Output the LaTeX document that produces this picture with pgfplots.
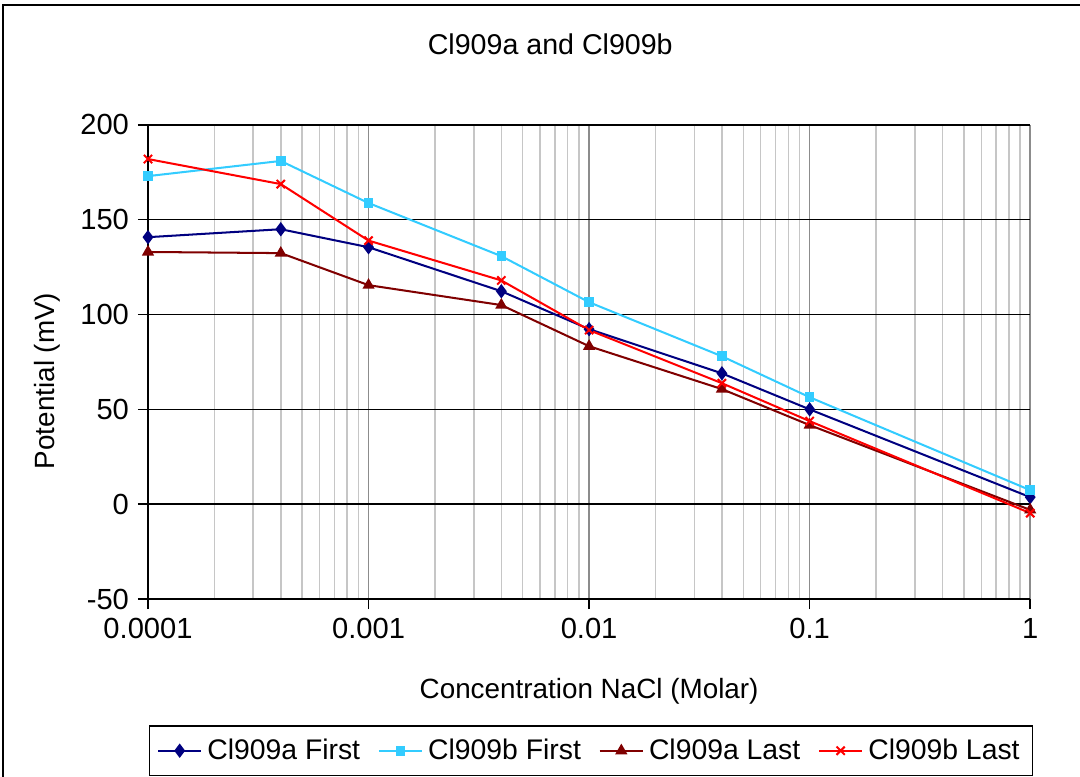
\documentclass[border=0pt]{standalone}
\usepackage{fontspec}
\setmainfont{Liberation Sans}
\usepackage{pgfplots}
\pgfplotsset{compat=1.18}
\definecolor{cNavy}{HTML}{000080}
\definecolor{cCyan}{HTML}{33CCFF}
\definecolor{cMaroon}{HTML}{800000}
\definecolor{cRed}{HTML}{FF0000}
\begin{document}
\begin{tikzpicture}
\def\px{0.013889cm}
\clip (0,0) rectangle (1080*\px,776*\px);
\useasboundingbox (0,0) rectangle (1080*\px,776*\px);
\draw[black, line width=0.6pt] (3*\px,771*\px) rectangle (1090*\px,-14*\px);
\begin{axis}[
  at={(148*\px,177*\px)}, anchor=south west,
  scale only axis, width=12.25cm, height=6.583cm,
  xmode=log, xmin=0.0001, xmax=1,
  ymin=-50, ymax=200, ytick={-50,0,50,100,150,200},
  yticklabels={-50,0,50,100,150,200},
  xtick={0.0001,0.001,0.01,0.1,1},
  xticklabels={0.0001,0.001,0.01,0.1,1},
  tick label style={font=\fontsize{11.5}{13}\selectfont},
  /pgf/number format/assume math mode=true,
  axis x line=bottom, axis y line=left,
  axis line style={-, black, line width=0.6pt},
  tick align=outside, major tick length=4pt, minor tick length=0pt,
  tick style={black, line width=0.6pt},
  xmajorgrids, xminorgrids, ymajorgrids,
  x grid style={draw=gray!90, line width=0.6pt},
  minor x grid style={draw=gray!45, line width=0.6pt},
  y grid style={draw=black, line width=0.6pt},
  title={Cl909a and Cl909b},
  title style={font=\fontsize{11.3}{13}\selectfont, at={(axis description cs:0.456,1.139)}, anchor=center},
  xlabel={Concentration NaCl (Molar)},
  xlabel style={font=\fontsize{11}{13}\selectfont, at={(axis description cs:0.5,-0.194)}, anchor=center},
  ylabel={Potential (mV)},
  ylabel style={font=\fontsize{11}{13}\selectfont, at={(axis description cs:-0.1145,0.46)}, anchor=center},
  legend style={at={(axis description cs:0.502,-0.266)}, anchor=north,
    legend columns=4, font=\fontsize{11.2}{13}\selectfont, draw=black, line width=0.6pt,
    /tikz/every even column/.append style={column sep=5pt},
    inner ysep=3pt},
  every axis plot/.append style={line width=0.8pt},
]
\addplot[color=cNavy, mark=diamond*, mark size=2.2pt, mark options={fill=cNavy}] coordinates {
(0.0001,140.8) (0.0004,145) (0.001,135.5) (0.004,112.3) (0.01,92.3) (0.04,69) (0.1,50) (1,3.7)};
\addplot[color=cCyan, mark=square*, mark size=1.5pt, mark options={fill=cCyan}] coordinates {
(0.0001,173) (0.0004,181) (0.001,158.8) (0.004,130.8) (0.01,106.5) (0.04,78) (0.1,56.4) (1,7.4)};
\addplot[color=cMaroon, mark=triangle*, mark size=2pt, mark options={fill=cMaroon}] coordinates {
(0.0001,133) (0.0004,132.4) (0.001,115.5) (0.004,105) (0.01,83.3) (0.04,60.7) (0.1,41.7) (1,-3)};
\addplot[color=cRed, mark=x, mark size=2.3pt] coordinates {
(0.0001,182) (0.0004,168.8) (0.001,139) (0.004,118) (0.01,91.8) (0.04,63.8) (0.1,43.8) (1,-4.7)};
\legend{Cl909a First, Cl909b First, Cl909a Last, Cl909b Last}
\end{axis}
\end{tikzpicture}
\end{document}
